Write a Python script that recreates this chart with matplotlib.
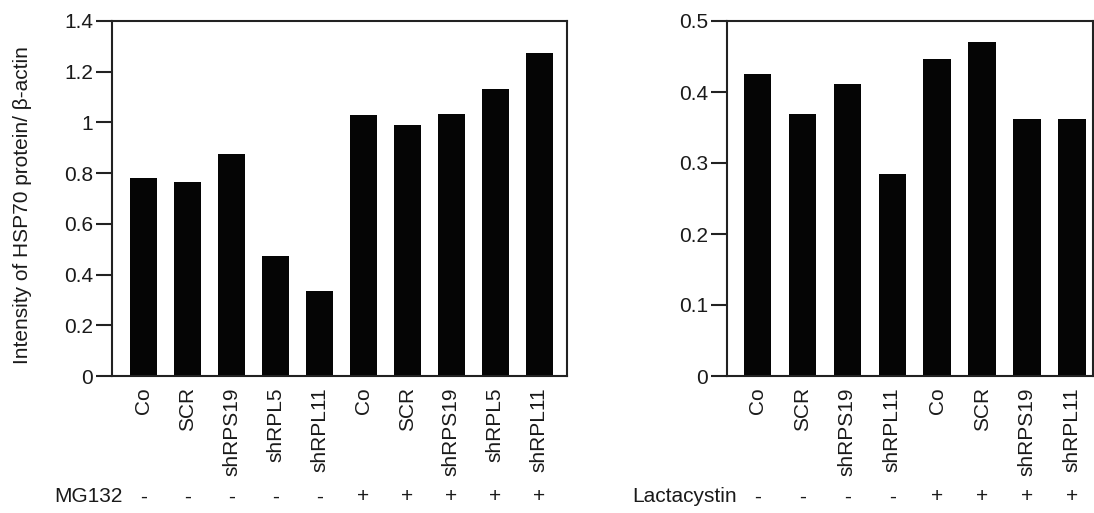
import matplotlib
matplotlib.use("Agg")
import matplotlib.pyplot as plt

plt.rcParams['font.family'] = ['Liberation Sans', 'DejaVu Sans']

left_categories = ["Co", "SCR", "shRPS19", "shRPL5", "shRPL11",
                   "Co", "SCR", "shRPS19", "shRPL5", "shRPL11"]
left_values = [0.779, 0.767, 0.877, 0.4725, 0.335, 1.030, 0.991, 1.034, 1.132, 1.274]
left_treatment = ["-", "-", "-", "-", "-", "+", "+", "+", "+", "+"]
left_treatment_name = "MG132"
left_yticks = [0, 0.2, 0.4, 0.6, 0.8, 1.0, 1.2, 1.4]
left_yticklabels = ["0", "0.2", "0.4", "0.6", "0.8", "1", "1.2", "1.4"]
left_ylabel = "Intensity of HSP70 protein/ β-actin"

right_categories = ["Co", "SCR", "shRPS19", "shRPL11", "Co", "SCR", "shRPS19", "shRPL11"]
right_values = [0.425, 0.369, 0.411, 0.285, 0.446, 0.470, 0.362, 0.362]
right_treatment = ["-", "-", "-", "-", "+", "+", "+", "+"]
right_treatment_name = "Lactacystin"
right_yticks = [0, 0.1, 0.2, 0.3, 0.4, 0.5]
right_yticklabels = ["0", "0.1", "0.2", "0.3", "0.4", "0.5"]

W, H = 1094, 513
fig = plt.figure(figsize=(W / 100, H / 100), dpi=100)

FS = 15
LINE = "#222222"
BAR = "#050505"
TEXT = "#1a1a1a"


def px_rect(l, r, b, t):
    return [l / W, 1 - b / H, (r - l) / W, (b - t) / H]


def panel(rect, cats, vals, treat, tname, yticks, yticklabels, xlim, ylim,
          ylabel=None, name_right_px=None):
    ax = fig.add_axes(rect)
    x = list(range(len(cats)))
    ax.bar(x, vals, width=0.61, color=BAR, edgecolor="none")
    ax.set_xlim(*xlim)
    ax.set_ylim(*ylim)
    ax.set_yticks(yticks)
    ax.set_yticklabels(yticklabels, fontsize=FS, color=TEXT)
    ax.set_xticks(x)
    ax.set_xticklabels(cats, rotation=90, fontsize=FS, color=TEXT)
    ax.tick_params(axis="x", length=0, pad=8)
    ax.tick_params(axis="y", length=11.5, width=1.5, pad=2, color=LINE)
    for s in ax.spines.values():
        s.set_linewidth(1.5)
        s.set_color(LINE)
    if ylabel:
        ax.set_ylabel(ylabel, fontsize=FS, color=TEXT)
        ax.yaxis.set_label_coords(32 / W, 1 - 205 / H, transform=fig.transFigure)
    ty = 497
    for xi, t in zip(x, treat):
        xd = ax.transData.transform((xi, 0))[0]
        fig.text(xd / W, 1 - ty / H, t, ha="center", va="center", fontsize=FS, color=TEXT)
    fig.text(name_right_px / W, 1 - ty / H, tname, ha="right", va="center",
             fontsize=FS, color=TEXT)
    return ax


panel(px_rect(112, 567, 376, 21), left_categories, left_values, left_treatment,
      left_treatment_name, left_yticks, left_yticklabels, (-0.72, 9.63), (0, 1.4),
      ylabel=left_ylabel, name_right_px=123)

panel(px_rect(727, 1093, 376, 21), right_categories, right_values, right_treatment,
      right_treatment_name, right_yticks, right_yticklabels, (-0.68, 7.47), (0, 0.5),
      name_right_px=737)

fig.savefig("out.png", dpi=100)
